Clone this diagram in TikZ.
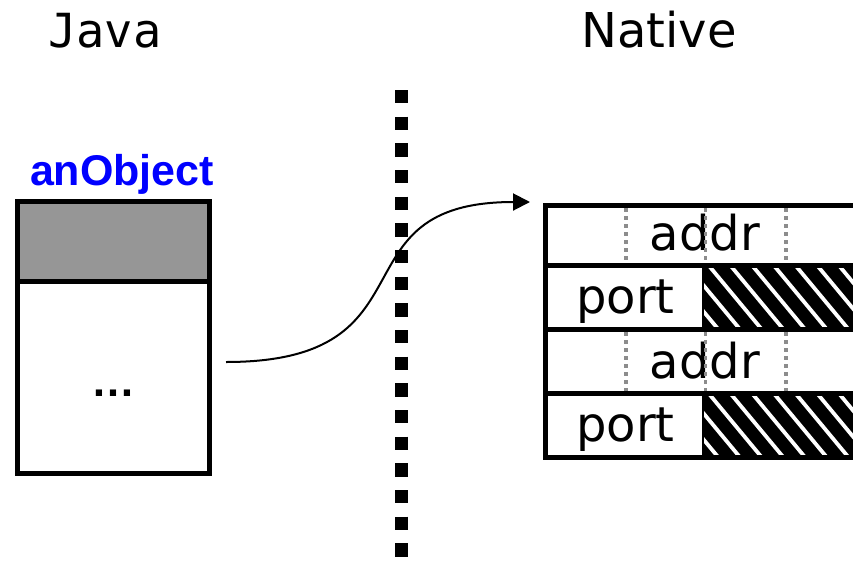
\documentclass[tikz,border=0pt]{standalone}
\usepackage{fontspec}
\setmainfont{DejaVu Sans}
\newfontfamily\javamono{DejaVu Sans Mono}
\newfontfamily\arialish{Liberation Sans}
\usetikzlibrary{arrows.meta}
\definecolor{hdrgray}{RGB}{150,150,150}
\definecolor{dotgray}{RGB}{140,140,140}
\definecolor{objblue}{RGB}{0,0,255}
\tikzset{
  title/.style={anchor=base, inner sep=0pt, font=\fontsize{48}{48}\selectfont},
  celltext/.style={anchor=base, inner sep=0pt, font=\fontsize{48}{48}\selectfont},
  objbox/.style={draw, line width=5pt, minimum width=192pt, inner sep=0pt},
  border/.style={line width=5pt},
  sepline/.style={line width=13pt, dash pattern=on 13.3pt off 13.37pt},
  graydots/.style={dotgray, line width=3.6pt, dash pattern=on 3.6pt off 4.4pt},
  stripe/.style={white, line width=3.8pt},
  pointer/.style={line width=2pt, -{Triangle[length=17pt,width=17pt]}}
}
\begin{document}
\begin{tikzpicture}[x=1pt,y=-1pt]
\clip (0,0) rectangle (853,568);
\fill[white] (0,0) rectangle (853,568);

% titles
\node[title, font=\javamono\fontsize{47}{47}\selectfont] (java) at (105,47) {Java};
\node[title] (native) at (659,47) {Native};

% Java object
\node[anchor=base, inner sep=0pt, text=objblue, font=\arialish\bfseries\fontsize{43}{43}\selectfont] (objname) at (122,185) {anObject};
\node[objbox, fill=hdrgray, minimum height=80pt] (hdr) at (113.5,241.5) {};
\node[objbox, minimum height=192pt] (body) at (113.5,377.5) {};
\node[anchor=base, inner sep=0pt, font=\arialish\bfseries\fontsize{44}{44}\selectfont] (dots) at (113,396) {…};

% separator
\draw[sepline] (401.5,90) -- (401.5,557);

% native table: hatched halves of port rows
\foreach \ya/\yb in {265/329, 393/457}{
  \begin{scope}
    \clip (703,\ya) rectangle (870,\yb);
    \fill[black] (703,\ya) rectangle (870,\yb);
    \foreach \k in {-4,...,8}{
      \draw[stripe] ({710+21.7*\k-0.83*10},\ya-8) -- ++(66.4,80);
    }
  \end{scope}
}
% grid
\draw[border] (545.5,203) -- (545.5,459.5);
\foreach \y in {205.5,265,329,393,457}{
  \draw[border] (543,\y) -- (870,\y);
}
\draw[line width=1.5pt] (703,265) -- (703,329);
\draw[line width=1.5pt] (703,393) -- (703,457);

% cell texts
\node[celltext] (addr1) at (705,250) {addr};
\node[celltext] (port1) at (625.5,313) {port};
\node[celltext] (addr2) at (705,378) {addr};
\node[celltext] (port2) at (625.5,441) {port};

% gray dotted guides in addr rows
\foreach \x in {626,705.5,786}{
  \draw[graydots] (\x,208) -- (\x,263);
  \draw[graydots] (\x,332) -- (\x,391);
}

% pointer
\coordinate (src) at (226,362);
\coordinate (tip) at (530,202);
\draw[pointer] (src) .. controls (440,362) and (330,202) .. (tip);
\end{tikzpicture}
\end{document}
